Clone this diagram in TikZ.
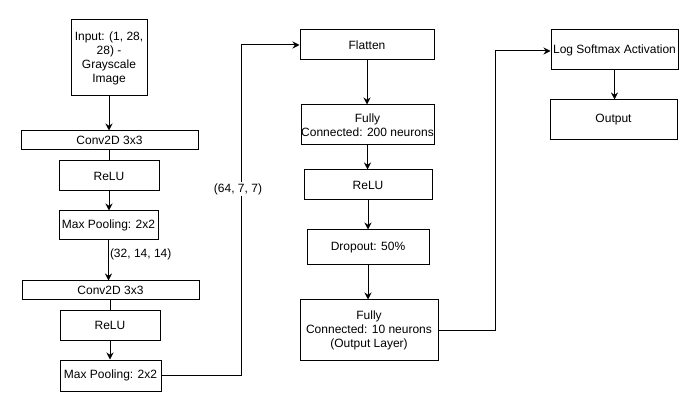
\documentclass[tikz,border=0pt]{standalone}
\usepackage{fontspec}
\setmainfont{Liberation Sans}
\usetikzlibrary{arrows.meta}
\begin{document}
\begin{tikzpicture}[x=1pt,y=-1pt,
  layer/.style={draw, line width=1pt, fill=white, inner sep=0pt, align=center,
                font=\fontsize{12}{14}\selectfont},
  flow/.style={line width=1pt, -{Stealth[length=7pt,width=7pt]}},
  link/.style={line width=1pt},
  dims/.style={font=\fontsize{12}{14}\selectfont, inner sep=1pt}]
\useasboundingbox[fill=white] (0,0) rectangle (698,411);

% convolutional part
\node[layer, minimum width=76pt,  minimum height=76pt] (input) at (109,58)
  {Input: (1, 28,\\28) -\\Grayscale\\Image};
\node[layer, minimum width=177pt, minimum height=19pt] (conv1) at (109.5,140.5) {Conv2D 3x3};
\node[layer, minimum width=100pt, minimum height=30pt] (relu1) at (109,176) {ReLU};
\node[layer, minimum width=99pt,  minimum height=29pt] (pool1) at (108.5,225.5) {Max Pooling: 2x2};
\node[layer, minimum width=177pt, minimum height=19pt] (conv2) at (110.5,290.5) {Conv2D 3x3};
\node[layer, minimum width=100pt, minimum height=30pt] (relu2) at (110,325.5) {ReLU};
\node[layer, minimum width=101pt, minimum height=31pt] (pool2) at (110.5,375.5) {Max Pooling: 2x2};

% dense part
\node[layer, minimum width=134pt, minimum height=30pt] (flat) at (367,45) {Flatten};
\node[layer, minimum width=133pt, minimum height=40pt] (fc1) at (367.5,125) {Fully\\Connected: 200 neurons};
\node[layer, minimum width=128pt, minimum height=30pt] (relu3) at (368,185) {ReLU};
\node[layer, minimum width=122pt, minimum height=35pt] (drop) at (368,247.5) {Dropout: 50\%};
\node[layer, minimum width=138pt, minimum height=60pt] (fc2) at (369,330) {Fully\\Connected: 10 neurons\\(Output Layer)};

% output part
\node[layer, minimum width=127pt, minimum height=40pt] (lsm) at (614.5,50) {Log Softmax Activation};
\node[layer, minimum width=127pt, minimum height=40pt] (out) at (613.5,120) {Output};

% connectors, first column
\draw[flow] (input.south) -- (input.south |- conv1.north);
\draw[link] (conv1.south -| relu1) -- (relu1.north);
\draw[flow] (relu1.south) -- (relu1.south |- pool1.north);
\draw[flow] (pool1.south) -- (pool1.south |- conv2.north)
  node[dims, pos=0.35, anchor=west] (d1) {(32, 14, 14)};
\draw[link] (conv2.south -| relu2) -- (relu2.north);
\draw[flow] (relu2.south) -- (relu2.south |- pool2.north);

% elbow into the dense part
\coordinate (b1) at (241,375.5);
\coordinate (b2) at (241,45);
\draw[flow] (pool2.east) -- (b1) -- (b2) -- (flat.west);
\node[dims, fill=white] (d2) at (238,189) {(64, 7, 7)};

% connectors, second column
\draw[flow] (flat.south) -- (flat.south |- fc1.north);
\draw[flow] (fc1.south) -- (fc1.south |- relu3.north);
\draw[flow] (relu3.south) -- (relu3.south |- drop.north);
\draw[flow] (drop.south) -- (drop.south |- fc2.north);

% elbow into the output part
\coordinate (c1) at (495,330);
\coordinate (c2) at (495,51);
\draw[flow] (fc2.east) -- (c1) -- (c2) -- (c2 -| lsm.west);
\draw[flow] (lsm.south) -- (lsm.south |- out.north);
\end{tikzpicture}
\end{document}
